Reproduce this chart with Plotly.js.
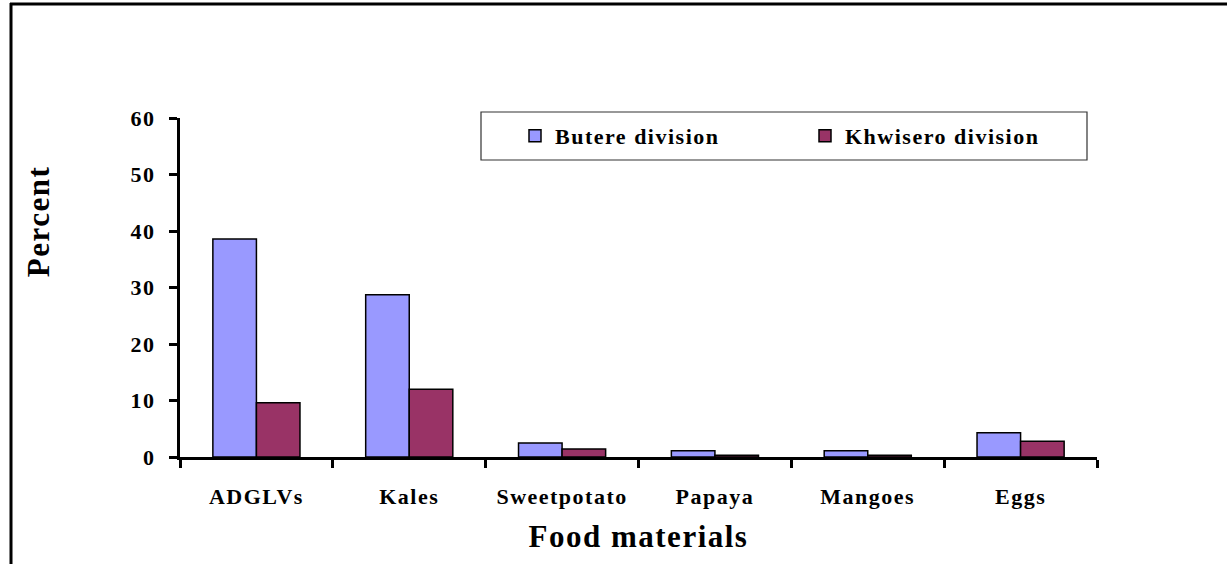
<!DOCTYPE html>
<html>
<head>
<meta charset="utf-8">
<script src="https://cdn.plot.ly/plotly-3.0.1.min.js"></script>
<style>
html,body{margin:0;padding:0;background:#fff;}
#chart{width:1227px;height:564px;}
#chart text{letter-spacing:1.5px;}
</style>
</head>
<body>
<div id="chart"></div>
<script>
const categories = ["ADGLVs", "Kales", "Sweetpotato", "Papaya", "Mangoes", "Eggs"];
const butere = [38.6, 28.7, 2.5, 1.1, 1.1, 4.3];
const khwisero = [9.6, 12.0, 1.4, 0.3, 0.3, 2.8];
const seriesNames = ["Butere division", "Khwisero division"];
const yTicks = [0, 10, 20, 30, 40, 50, 60];

const W = 1227, H = 564;
const M = {l: 180, r: 130, t: 118, b: 107};
const pw = W - M.l - M.r, ph = H - M.t - M.b;
const px = x => (x - M.l) / pw;
const py = y => (H - M.b - y) / ph;

const font = "Liberation Serif, Times New Roman, serif";

const traces = [
  {type: "bar", name: seriesNames[0], x: categories, y: butere,
   marker: {color: "#9999FF", line: {color: "#000", width: 1.5}}},
  {type: "bar", name: seriesNames[1], x: categories, y: khwisero,
   marker: {color: "#993366", line: {color: "#000", width: 1.5}}}
];

const layout = {
  width: W, height: H,
  margin: M,
  paper_bgcolor: "#fff", plot_bgcolor: "#fff",
  barmode: "group", bargap: 0.43, bargroupgap: 0,
  font: {family: font, color: "#000", size: 22},
  showlegend: true,
  legend: {
    orientation: "h", x: px(515), y: py(115), xanchor: "left", yanchor: "top",
    bgcolor: "rgba(0,0,0,0)", borderwidth: 0,
    font: {family: font, size: 22, color: "#000", weight: "bold"},
    entrywidth: 245, entrywidthmode: "pixels", itemwidth: 30
  },
  xaxis: {
    type: "category", range: [-0.5, 5.5],
    showline: true, linecolor: "#000", linewidth: 3,
    ticks: "outside", tickson: "boundaries", ticklen: 8, tickwidth: 3, tickcolor: "#000",
    showgrid: false, zeroline: false,
    tickfont: {family: font, size: 22, weight: "bold"},
    ticklabelstandoff: 18,
    title: {text: "Food materials", font: {family: font, size: 31, weight: "bold"}, standoff: 17}
  },
  yaxis: {
    range: [0, 60], tickvals: yTicks,
    showline: true, linecolor: "#000", linewidth: 3,
    ticks: "outside", ticklen: 8, tickwidth: 3, tickcolor: "#000",
    showgrid: false, zeroline: false,
    tickfont: {family: font, size: 22, weight: "bold"},
    ticklabelstandoff: 9
  },
  annotations: [
    {text: "Percent", xref: "paper", yref: "paper", x: px(38), y: py(221),
     showarrow: false, textangle: -90, xanchor: "center", yanchor: "middle",
     font: {family: font, size: 31, weight: "bold"}}
  ],
  shapes: [
    {type: "rect", xref: "paper", yref: "paper", x0: px(481), x1: px(1087), y0: py(112), y1: py(160),
     line: {color: "#333", width: 1.2}, fillcolor: "rgba(0,0,0,0)"},
    {type: "line", xref: "paper", yref: "paper", x0: px(11), x1: px(11), y0: py(3), y1: py(570),
     line: {color: "#000", width: 3}},
    {type: "line", xref: "paper", yref: "paper", x0: px(10), x1: px(1230), y0: py(4), y1: py(4),
     line: {color: "#000", width: 3}}
  ]
};

Plotly.newPlot("chart", traces, layout, {displayModeBar: false, staticPlot: true});
</script>
</body>
</html>
